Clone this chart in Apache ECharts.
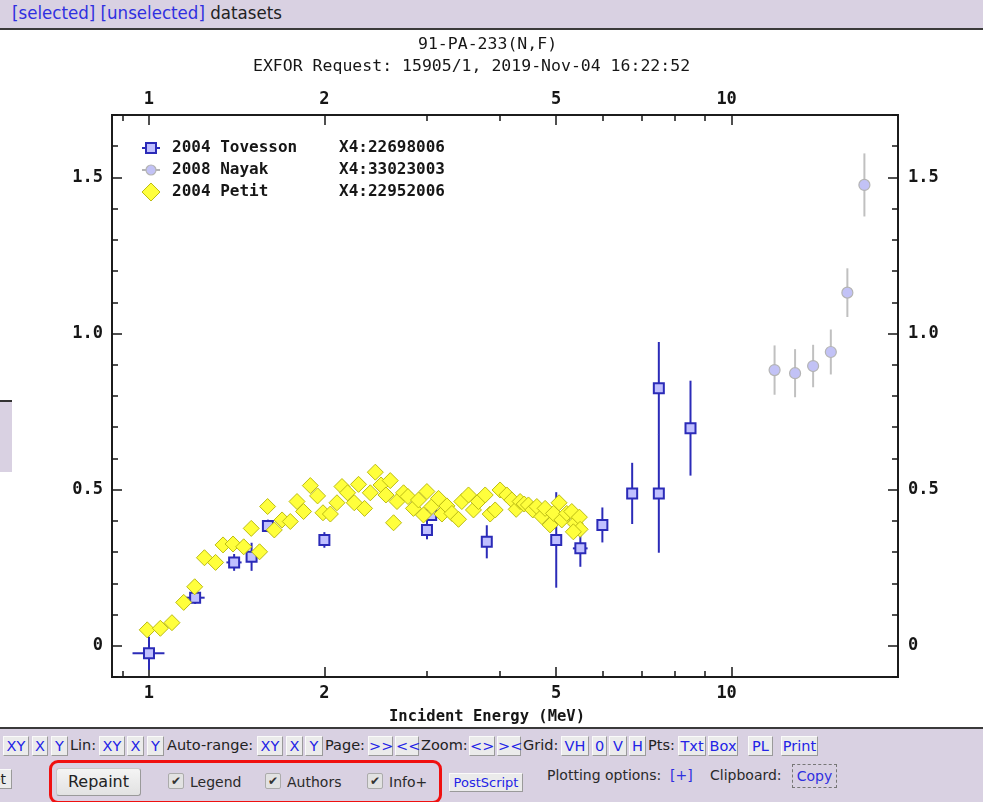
<!DOCTYPE html>
<html>
<head>
<meta charset="utf-8">
<title>91-PA-233(N,F)</title>
<script src="https://cdn.jsdelivr.net/npm/echarts@6/dist/echarts.min.js"></script>
<style>
  html, body { margin: 0; padding: 0; background: #fff; width: 983px; height: 802px; overflow: hidden; }
  #chart { position: absolute; left: 0; top: 0; width: 983px; height: 802px; }
  .panel { position: absolute; background: #d9d1e2; z-index: 2; }
  .ui { position: absolute; z-index: 3; white-space: nowrap; font-family: 'DejaVu Sans', sans-serif; }
  .btn { background: #ebebeb; border: 1px solid; border-color: #fafafa #9a9a9a #9a9a9a #fafafa;
         color: #2323e6; text-align: center; box-sizing: border-box; }
  .lbl { color: #222; }
  .chk { width: 16px; height: 16px; box-sizing: border-box; background: #e2e2e2; border: 1px solid #ababab;
         border-radius: 2px; font-size: 12px; line-height: 14px; text-align: center; color: #333; }
</style>
</head>
<body>
<div id="chart"></div>

<!-- page header -->
<div class="panel" style="left:0;top:0;width:983px;height:28px;border-bottom:2px solid #3a3a3a;"></div>
<div class="ui" style="left:12px;top:2px;font-size:18.5px;font-stretch:condensed;font-family:'DejaVu Sans Condensed','DejaVu Sans',sans-serif;">
  <span style="color:#2f2fe0">[selected]</span> <span style="color:#2f2fe0">[unselected]</span> <span style="color:#222">datasets</span>
</div>

<!-- side panel stub -->
<div class="panel" style="left:0;top:400px;width:12px;height:70px;border-top:2px solid #333;"></div>

<!-- bottom control panel -->
<div class="panel" style="left:0;top:727px;width:983px;height:75px;border-top:2px solid #3a3a3a;"></div>
<div id="toolbar"></div>

<script>
// ---- data ----
const energyMajorTicks = [1, 2, 5, 10];
const energyMinorTicks = [0.9, 3, 4, 6, 7, 8, 9];
const sigmaMajorTicks = [0, 0.5, 1.0, 1.5];
const sigmaMinorTicks = [-0.1, 0.1, 0.2, 0.3, 0.4, 0.6, 0.7, 0.8, 0.9, 1.1, 1.2, 1.3, 1.4, 1.6, 1.7];

// 2004 Tovesson, X4:22698006 (energy MeV, cross section b, dσ, dE)
const tovessonE  = [1.0, 1.2, 1.4, 1.5, 1.6, 2.0, 3.0, 3.05, 3.8, 5.0, 5.5, 6.0, 6.75, 7.5, 7.5, 8.5];
const tovessonY  = [-0.024, 0.154, 0.267, 0.285, 0.384, 0.339, 0.371, 0.419, 0.333, 0.339, 0.312, 0.387, 0.488, 0.488, 0.825, 0.697];
const tovessonDY = [0.053, 0.02, 0.027, 0.045, 0.02, 0.025, 0.03, 0.015, 0.053, 0.153, 0.059, 0.056, 0.098, 0.19, 0.148, 0.152];
const tovessonDE = [0.063, 0.046, 0.042, 0, 0, 0, 0, 0, 0, 0, 0.16, 0, 0, 0, 0, 0];

// 2008 Nayak, X4:33023003
const nayakE  = [11.85, 12.85, 13.8, 14.8, 15.8, 16.9];
const nayakY  = [0.883, 0.873, 0.896, 0.941, 1.131, 1.476];
const nayakDY = [0.079, 0.077, 0.068, 0.072, 0.078, 0.101];

// 2004 Petit, X4:22952006
const petitE = [0.993, 1.046, 1.095, 1.147, 1.198, 1.245, 1.301, 1.340, 1.394, 1.454, 1.548, 1.498,
  1.598, 1.641, 1.692, 1.748, 1.795, 1.842, 1.892, 1.947, 1.989, 2.048, 2.102, 2.144, 2.192, 2.251,
  2.289, 2.344, 2.398, 2.446, 2.502, 2.551, 2.595, 2.629, 2.665, 2.735, 2.783, 2.844, 2.901, 2.959,
  2.999, 3.059, 3.140, 3.183, 3.246, 3.311, 3.398, 3.443, 3.535, 3.605, 3.677, 3.776, 3.851, 3.928,
  4.005, 4.113, 4.196, 4.268, 4.335, 4.405, 4.480, 4.558, 4.631, 4.724, 4.785, 4.881, 4.946, 5.056,
  5.111, 5.212, 5.317, 5.386, 5.479, 5.495, 5.350];
const petitY = [0.051, 0.056, 0.074, 0.139, 0.189, 0.282, 0.267, 0.323, 0.326, 0.317, 0.301, 0.376,
  0.446, 0.371, 0.403, 0.398, 0.462, 0.430, 0.513, 0.480, 0.426, 0.422, 0.458, 0.510, 0.490, 0.458,
  0.517, 0.440, 0.490, 0.556, 0.515, 0.483, 0.529, 0.394, 0.462, 0.490, 0.478, 0.440, 0.467, 0.419,
  0.494, 0.446, 0.472, 0.422, 0.448, 0.424, 0.405, 0.462, 0.483, 0.435, 0.462, 0.483, 0.422, 0.435,
  0.499, 0.483, 0.467, 0.437, 0.462, 0.454, 0.451, 0.435, 0.446, 0.414, 0.440, 0.387, 0.424, 0.458,
  0.403, 0.424, 0.430, 0.392, 0.412, 0.373, 0.365];

const legendNames = ['2004 Tovesson', '2008 Nayak', '2004 Petit'];
const legendIds = ['X4:22698006', 'X4:33023003', 'X4:22952006'];

// ---- styles ----
const MONO = '"DejaVu Sans Mono", "Liberation Mono", monospace';
const INK = '#161616';
const TOV_EDGE = '#2b2bb8';
const TOV_FILL = '#c0c0ff';
const NAY_EDGE = '#b4b4b4';
const NAY_FILL = '#c2c2f6';
const PET_EDGE = '#bcbc14';
const PET_FILL = '#ffff3c';

const E_MIN = 0.864, E_MAX = 19.3;

function errorBars(color) {
  return function (params, api) {
    const e = api.value(0), v = api.value(1), dy = api.value(2), de = api.value(3);
    const style = { stroke: color, lineWidth: 2 };
    const children = [];
    if (dy > 0) {
      const a = api.coord([e, v - dy]), b = api.coord([e, v + dy]);
      children.push({ type: 'line', shape: { x1: a[0], y1: a[1], x2: b[0], y2: b[1] }, style });
    }
    if (de > 0) {
      const a = api.coord([e - de, v]), b = api.coord([e + de, v]);
      children.push({ type: 'line', shape: { x1: a[0], y1: a[1], x2: b[0], y2: b[1] }, style });
    }
    return { type: 'group', children };
  };
}

const labelFont = { color: INK, fontFamily: MONO, fontWeight: 'bold', fontSize: 17 };

function energyAxis(position, major) {
  return {
    type: 'log', logBase: 10, position, min: E_MIN, max: E_MAX, gridIndex: 0,
    axisLine: { show: false, onZero: false },
    splitLine: { show: false },
    minorTick: { show: false },
    axisTick: { show: true, inside: true, length: major ? 10 : 6,
      customValues: major ? energyMajorTicks : energyMinorTicks,
      lineStyle: { color: INK, width: 1.5 } },
    axisLabel: major ? Object.assign({
      show: true, margin: position === 'top' ? 7 : 8,
      customValues: energyMajorTicks,
      formatter: v => (v === 10 ? '{s|10}' : String(v)),
      rich: { s: Object.assign({ padding: [0, 10, 0, 0] }, labelFont) }
    }, labelFont) : { show: false }
  };
}

function sigmaAxis(position, major) {
  return {
    type: 'value', position, min: -0.1, max: 1.7, gridIndex: 0,
    axisLine: { show: false, onZero: false },
    splitLine: { show: false },
    axisTick: { show: true, inside: true, length: major ? 10 : 6,
      customValues: major ? sigmaMajorTicks : sigmaMinorTicks,
      lineStyle: { color: INK, width: 1.5 } },
    axisLabel: major ? Object.assign({
      show: true, margin: position === 'left' ? 9 : 10,
      customValues: sigmaMajorTicks,
      formatter: v => (v === 0 ? '0' : v.toFixed(1))
    }, labelFont) : { show: false }
  };
}

// legend block drawn inside the plot frame
const legendX = 140, legendY0 = 148, legendDY = 22;
const legendGraphics = [];
legendNames.forEach((name, i) => {
  const y = legendY0 + i * legendDY;
  if (i === 0) {
    legendGraphics.push({ type: 'line', shape: { x1: legendX + 2, y1: y, x2: legendX + 20, y2: y },
      style: { stroke: TOV_EDGE, lineWidth: 2 }, z: 10 });
    legendGraphics.push({ type: 'rect', shape: { x: legendX + 6, y: y - 5, width: 10, height: 10 },
      style: { fill: TOV_FILL, stroke: TOV_EDGE, lineWidth: 2 }, z: 11 });
  } else if (i === 1) {
    legendGraphics.push({ type: 'line', shape: { x1: legendX + 2, y1: y, x2: legendX + 20, y2: y },
      style: { stroke: NAY_EDGE, lineWidth: 2 }, z: 10 });
    legendGraphics.push({ type: 'circle', shape: { cx: legendX + 11, cy: y, r: 5 },
      style: { fill: NAY_FILL, stroke: NAY_EDGE, lineWidth: 1.2 }, z: 11 });
  } else {
    legendGraphics.push({ type: 'polygon',
      shape: { points: [[legendX + 11, y - 9], [legendX + 20, y], [legendX + 11, y + 9], [legendX + 2, y]] },
      style: { fill: PET_FILL, stroke: PET_EDGE, lineWidth: 1 }, z: 11 });
  }
  legendGraphics.push({ type: 'text', x: 172, y: y, z: 12,
    style: { text: name, font: 'bold 16px ' + MONO, fill: INK, align: 'left', verticalAlign: 'middle' } });
  legendGraphics.push({ type: 'text', x: 339, y: y, z: 12,
    style: { text: legendIds[i], font: 'bold 16px ' + MONO, fill: INK, align: 'left', verticalAlign: 'middle' } });
});

const option = {
  animation: false,
  backgroundColor: '#ffffff',
  grid: { left: 112, top: 115, width: 786, height: 562, show: true,
    borderColor: '#1c1c1c', borderWidth: 2, backgroundColor: '#ffffff' },
  xAxis: [
    Object.assign(energyAxis('bottom', true), {
      name: 'Incident Energy (MeV)', nameLocation: 'middle', nameGap: 32,
      nameTextStyle: { color: INK, fontFamily: MONO, fontWeight: 'bold', fontSize: 15.5, padding: [0, 36, 0, 0] }
    }),
    energyAxis('bottom', false),
    energyAxis('top', true),
    energyAxis('top', false)
  ],
  yAxis: [
    sigmaAxis('left', true),
    sigmaAxis('left', false),
    sigmaAxis('right', true),
    sigmaAxis('right', false)
  ],
  graphic: [
    { type: 'text', x: 418, y: 45,
      style: { text: '91-PA-233(N,F)', font: '16.5px ' + MONO, fill: INK, align: 'left', verticalAlign: 'middle' } },
    { type: 'text', x: 253, y: 67,
      style: { text: 'EXFOR Request: 15905/1, 2019-Nov-04 16:22:52', font: '16.5px ' + MONO, fill: INK, align: 'left', verticalAlign: 'middle' } }
  ].concat(legendGraphics),
  series: [
    {
      name: '2008 Nayak err', type: 'custom', xAxisIndex: 0, yAxisIndex: 0, z: 2,
      renderItem: errorBars('#c0c0c0'), encode: { x: 0, y: 1 },
      data: nayakE.map((e, i) => [e, nayakY[i], nayakDY[i], 0])
    },
    {
      name: '2008 Nayak', type: 'scatter', xAxisIndex: 0, yAxisIndex: 0, z: 3,
      symbol: 'circle', symbolSize: 11,
      itemStyle: { color: NAY_FILL, borderColor: NAY_EDGE, borderWidth: 1.2, opacity: 1 },
      data: nayakE.map((e, i) => [e, nayakY[i]])
    },
    {
      name: '2004 Tovesson err', type: 'custom', xAxisIndex: 0, yAxisIndex: 0, z: 4,
      renderItem: errorBars(TOV_EDGE), encode: { x: 0, y: 1 },
      data: tovessonE.map((e, i) => [e, tovessonY[i], tovessonDY[i], tovessonDE[i]])
    },
    {
      name: '2004 Tovesson', type: 'scatter', xAxisIndex: 0, yAxisIndex: 0, z: 5,
      symbol: 'rect', symbolSize: 10,
      itemStyle: { color: TOV_FILL, borderColor: TOV_EDGE, borderWidth: 2, opacity: 1 },
      data: tovessonE.map((e, i) => [e, tovessonY[i]])
    },
    {
      name: '2004 Petit', type: 'scatter', xAxisIndex: 0, yAxisIndex: 0, z: 6,
      symbol: 'diamond', symbolSize: 16,
      itemStyle: { color: PET_FILL, borderColor: PET_EDGE, borderWidth: 1, opacity: 1 },
      data: petitE.map((e, i) => [e, petitY[i]])
    }
  ]
};

const chart = echarts.init(document.getElementById('chart'), null, { renderer: 'canvas' });
chart.setOption(option);

// ---- control panel widgets ----
const toolbarRow = [
  ['b', 'XY', 3, 29], ['b', 'X', 32, 48], ['b', 'Y', 51, 68], ['t', 'Lin:', 70, 97],
  ['b', 'XY', 99, 125], ['b', 'X', 127, 144], ['b', 'Y', 147, 164], ['t', 'Auto-range:', 167, 256],
  ['b', 'XY', 257, 283], ['b', 'X', 286, 303], ['b', 'Y', 305, 323], ['t', 'Page:', 325, 366],
  ['b', '>>', 368, 393], ['b', '<<', 395, 419], ['t', 'Zoom:', 421, 468], ['b', '<>', 469, 495],
  ['b', '><', 497, 521], ['t', 'Grid:', 523, 559], ['b', 'VH', 561, 589], ['b', '0', 592, 607],
  ['b', 'V', 609, 627], ['b', 'H', 629, 646], ['t', 'Pts:', 648, 677], ['b', 'Txt', 678, 706],
  ['b', 'Box', 708, 738], ['b', 'PL', 748, 773], ['b', 'Print', 781, 818]
];
const host = document.getElementById('toolbar');
function add(cls, text, css) {
  const d = document.createElement('div');
  d.className = 'ui ' + cls;
  d.textContent = text;
  d.style.cssText = css;
  host.appendChild(d);
  return d;
}
toolbarRow.forEach(([kind, text, x0, x1]) => {
  if (kind === 'b') {
    add('btn', text, `left:${x0}px;top:736px;width:${x1 - x0}px;height:20px;line-height:18px;font-size:14.5px;`);
  } else {
    add('lbl', text, `left:${x0}px;top:736px;height:20px;line-height:19px;font-size:14.5px;`);
  }
});
// second row
add('btn', 'et', 'left:-14px;top:769px;width:26px;height:20px;line-height:18px;font-size:14px;color:#222;');
add('', '', 'left:49px;top:760px;width:393px;height:44px;box-sizing:border-box;border:3px solid #f01010;border-radius:9px;');
add('btn', 'Repaint', 'left:56px;top:768px;width:85px;height:28px;line-height:26px;font-size:16px;color:#222;border-radius:3px;border-color:#c8c8c8 #9a9a9a #9a9a9a #c8c8c8;background:linear-gradient(#f4f4f4,#e2e2e2);');
[['Legend', 168], ['Authors', 265], ['Info+', 367]].forEach(([t, x]) => {
  add('chk', '\u2714', `left:${x}px;top:773px;`);
  add('lbl', t, `left:${x + 22}px;top:774px;font-size:14px;line-height:17px;color:#2a2a2a;`);
});
add('btn', 'PostScript', 'left:449px;top:773px;width:74px;height:19px;line-height:17px;font-size:13px;');
add('lbl', 'Plotting options:', 'left:547px;top:767px;font-size:14px;line-height:17px;color:#2a2a2a;');
add('lbl', '[+]', 'left:670px;top:767px;font-size:14px;line-height:17px;color:#2f2fe0;');
add('lbl', 'Clipboard:', 'left:710px;top:767px;font-size:14px;line-height:17px;color:#2a2a2a;');
add('lbl', 'Copy', 'left:792px;top:764px;width:45px;height:24px;box-sizing:border-box;border:1px dashed #777;text-align:center;font-size:14px;line-height:22px;color:#2f2fe0;');
</script>
</body>
</html>
